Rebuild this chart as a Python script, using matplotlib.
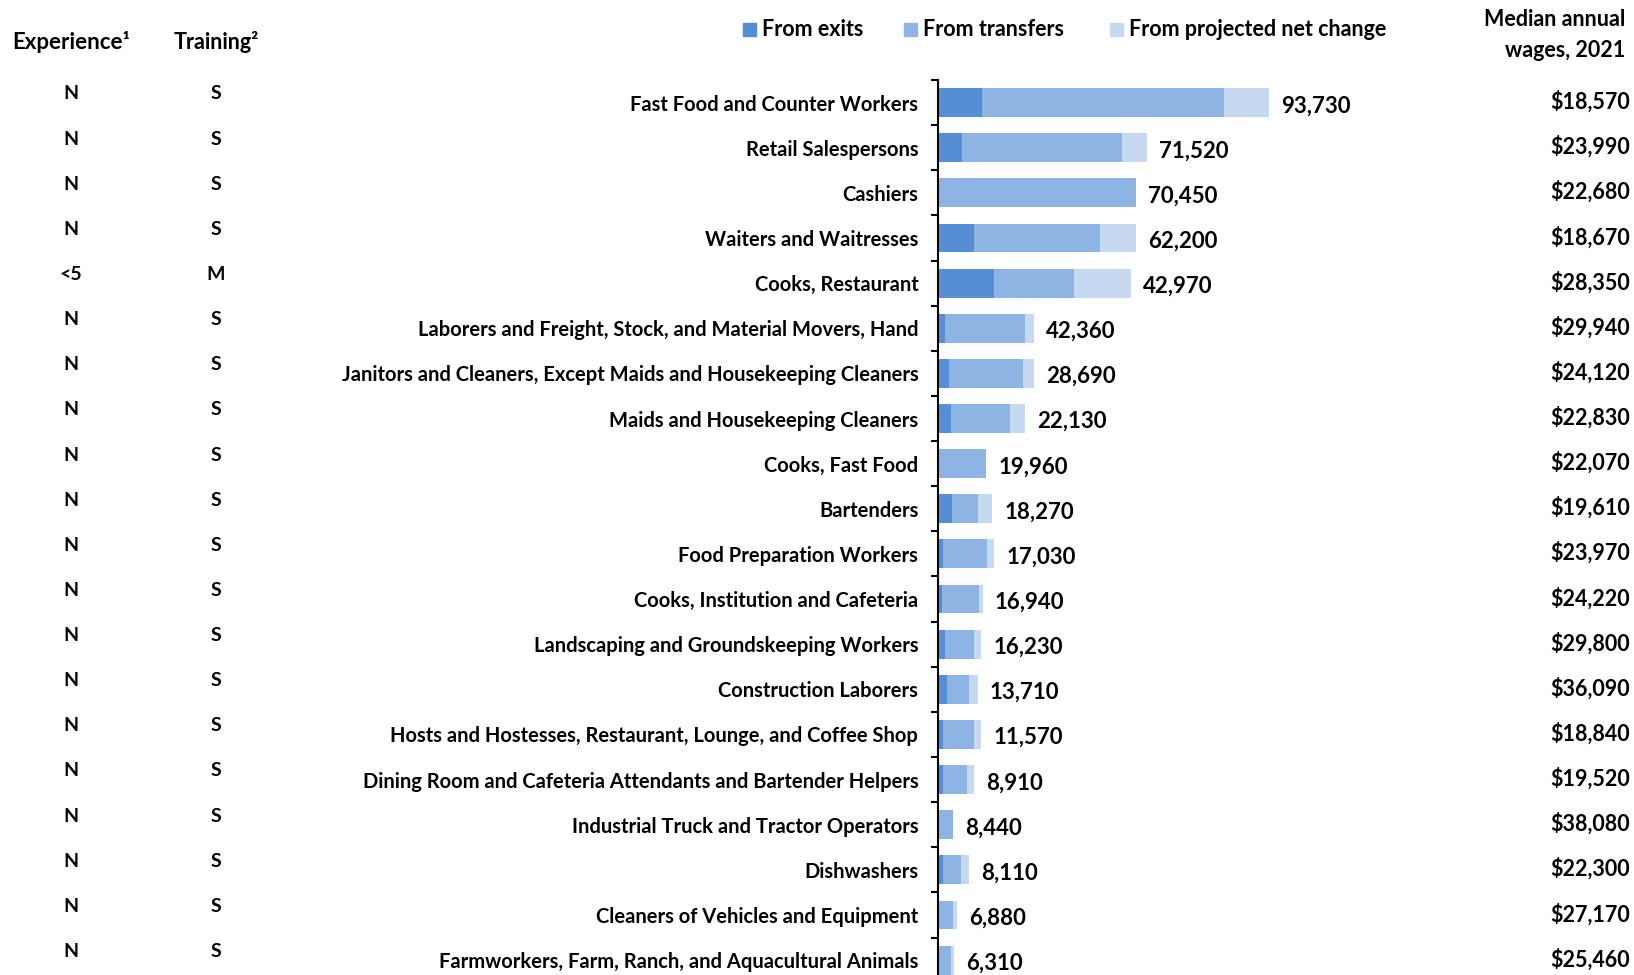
import matplotlib.pyplot as plt
from matplotlib.transforms import blended_transform_factory
from matplotlib.patches import Rectangle

plt.rcParams['font.family'] = ['Lato', 'DejaVu Sans']
plt.rcParams['font.weight'] = 'bold'

occupations = [
    "Fast Food and Counter Workers",
    "Retail Salespersons",
    "Cashiers",
    "Waiters and Waitresses",
    "Cooks, Restaurant",
    "Laborers and Freight, Stock, and Material Movers, Hand",
    "Janitors and Cleaners, Except Maids and Housekeeping Cleaners",
    "Maids and Housekeeping Cleaners",
    "Cooks, Fast Food",
    "Bartenders",
    "Food Preparation Workers",
    "Cooks, Institution and Cafeteria",
    "Landscaping and Groundskeeping Workers",
    "Construction Laborers",
    "Hosts and Hostesses, Restaurant, Lounge, and Coffee Shop",
    "Dining Room and Cafeteria Attendants and Bartender Helpers",
    "Industrial Truck and Tractor Operators",
    "Dishwashers",
    "Cleaners of Vehicles and Equipment",
    "Farmworkers, Farm, Ranch, and Aquacultural Animals",
]

# segment lengths as drawn
exits = [12450, 6790, 0, 10380, 16030, 2070, 3110, 3680, 0, 4150,
         1600, 1130, 2070, 2550, 1600, 1600, 0, 1600, 300, 380]
transfers = [68460, 45260, 56100, 35450, 22630, 22630, 21120, 16880, 13670, 7170,
             12260, 10650, 8300, 6220, 8770, 6690, 4430, 5090, 4150, 3300]
net_change = [12820, 7260, 0, 10280, 15940, 2640, 3110, 4240, 0, 4150,
              2070, 940, 1980, 2550, 1980, 2070, 0, 2070, 940, 940]

totals = [93730, 71520, 70450, 62200, 42970, 42360, 28690, 22130, 19960, 18270,
          17030, 16940, 16230, 13710, 11570, 8910, 8440, 8110, 6880, 6310]
wages = [18570, 23990, 22680, 18670, 28350, 29940, 24120, 22830, 22070, 19610,
         23970, 24220, 29800, 36090, 18840, 19520, 38080, 22300, 27170, 25460]
experience = ["N", "N", "N", "N", "<5", "N", "N", "N", "N", "N",
              "N", "N", "N", "N", "N", "N", "N", "N", "N", "N"]
training = ["S", "S", "S", "S", "M", "S", "S", "S", "S", "S",
            "S", "S", "S", "S", "S", "S", "S", "S", "S", "S"]

c_exits = "#558ED5"
c_transfers = "#8EB4E3"
c_net = "#C6D9F1"

W, H = 1634, 975
fig = plt.figure(figsize=(W / 100, H / 100), dpi=100)
ax = fig.add_axes([937.7 / W, 0, 1 - 937.7 / W, 1 - 80 / H])

y = list(range(len(occupations)))
left2 = [e for e in exits]
left3 = [e + t for e, t in zip(exits, transfers)]
ax.barh(y, exits, height=0.64, color=c_exits)
ax.barh(y, transfers, left=left2, height=0.64, color=c_transfers)
ax.barh(y, net_change, left=left3, height=0.64, color=c_net)

ax.set_xlim(0, (W - 937.7) / 0.003535)
ax.set_ylim(len(occupations) - 1 + 0.33, -0.5)

for s in ["top", "right", "bottom"]:
    ax.spines[s].set_visible(False)
ax.spines["left"].set_linewidth(1.5)
ax.set_xticks([])
ax.set_yticks(y)
ax.set_yticklabels(occupations, fontsize=14.5)
ax.tick_params(axis="y", which="major", length=0, pad=14)
ax.set_yticks([i - 0.5 for i in y], minor=True)
ax.tick_params(axis="y", which="minor", length=5, width=1.5)

# total labels
for i in y:
    end = exits[i] + transfers[i] + net_change[i]
    ax.text(end + 3400, i + 0.07, f"{totals[i]:,}", va="center", ha="left",
            fontsize=16, fontweight="bold")

# side columns
tr = blended_transform_factory(fig.transFigure, ax.transData)
for i in y:
    fig.text(71 / W, i - 0.19, experience[i], transform=tr, ha="center", va="center",
             fontsize=14, fontweight="bold")
    fig.text(216 / W, i - 0.19, training[i], transform=tr, ha="center", va="center",
             fontsize=14, fontweight="bold")
    fig.text(1630 / W, i - 0.02, f"${wages[i]:,}", transform=tr, ha="right", va="center",
             fontsize=15.5, fontweight="bold")

fig.text(71 / W, 1 - 42 / H, "Experience¹", ha="center", va="center", fontsize=16, fontweight="bold")
fig.text(216 / W, 1 - 42 / H, "Training²", ha="center", va="center", fontsize=15.5, fontweight="bold")
fig.text(1625 / W, 1 - 35 / H, "Median annual\nwages, 2021", ha="right", va="center",
         fontsize=15.5, fontweight="bold", linespacing=1.55)

# legend
legend_items = [("From exits", c_exits, 743), ("From transfers", c_transfers, 904),
                ("From projected net change", c_net, 1110)]
for label, col, xp in legend_items:
    fig.patches.append(Rectangle((xp / W, 1 - 36 / H), 13 / W, 13 / H,
                                 transform=fig.transFigure, color=col))
    fig.text((xp + 19) / W, 1 - 29 / H, label, ha="left", va="center",
             fontsize=15.5, fontweight="bold")

fig.savefig("out.png", dpi=100)
